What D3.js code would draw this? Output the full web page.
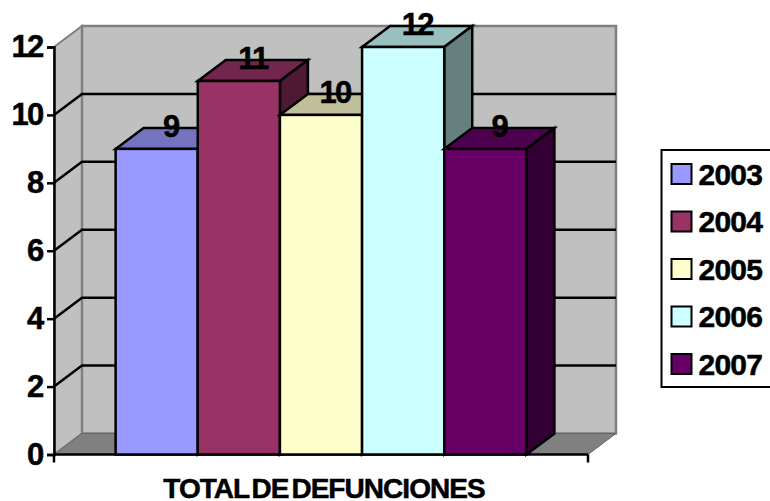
<!DOCTYPE html>
<html><head><meta charset="utf-8">
<script src="https://cdn.jsdelivr.net/npm/d3@7"></script>
<style>html,body{margin:0;padding:0;background:#fff;overflow:hidden}svg{display:block}text{font-family:"Liberation Sans",Arial,sans-serif;font-weight:bold;fill:#000;stroke:#000;stroke-width:0.5px}</style>
</head><body><svg id="c" width="770" height="501"></svg>
<script>
const years = ["2003","2004","2005","2006","2007"];
const values = [9,11,10,12,9];
const faceColors = ["#9999ff","#993366","#ffffcc","#ccffff","#660066"];
const topColors = ["#7373bf","#73264d","#bfbf99","#99bfbf","#4d004d"];
const sideColors = ["#4d4d80","#4d1933","#808066","#668080","#330033"];
const yTicks = [0,2,4,6,8,10,12];
const categoryLabel = "TOTAL DE DEFUNCIONES";

const svg = d3.select("#c");
const dx = 28, dy = -21;
const y = d3.scaleLinear().domain([0,12]).range([454.5,47]);
const x = d3.scaleBand().domain(years).range([54,588]).paddingInner(0).paddingOuter(0.75);
const poly = pts => pts.map(p=>p.join(",")).join(" ");
const x0 = x.range()[0], x1 = x.range()[1];

// walls and floor
svg.append("polygon").attr("points",poly([[x0,y(0)],[x0+dx,y(0)+dy],[x0+dx,y(12)+dy],[x0,y(12)]])).attr("fill","#c0c0c0").attr("stroke","#808080").attr("stroke-width",2);
svg.append("polygon").attr("points",poly([[x0+dx,y(0)+dy],[x1+dx,y(0)+dy],[x1+dx,y(12)+dy],[x0+dx,y(12)+dy]])).attr("fill","#c0c0c0").attr("stroke","#808080").attr("stroke-width",2.5);
svg.append("polygon").attr("points",poly([[x0,y(0)],[x1,y(0)],[x1+dx,y(0)+dy],[x0+dx,y(0)+dy]])).attr("fill","#808080").attr("stroke","#666").attr("stroke-width",1);

// gridlines
yTicks.filter(t=>t>0&&t<12).forEach(t=>{
  svg.append("path").attr("d",`M${x0},${y(t)}L${x0+dx},${y(t)+dy}L${x1+dx},${y(t)+dy}`).attr("fill","none").attr("stroke","#000").attr("stroke-width",2.5);
});

// axes
const yAxis = svg.append("g").attr("transform",`translate(${x0},0)`).call(d3.axisLeft(y).tickValues(yTicks).tickSize(7).tickPadding(4.5));
yAxis.selectAll("path").attr("stroke","#000").attr("stroke-width",2.5);
yAxis.selectAll("line").attr("stroke","#000").attr("stroke-width",2.5);
yAxis.selectAll("text").attr("font-size",31).attr("font-family",'"Liberation Sans"').attr("font-weight","bold").attr("letter-spacing",-1.8).attr("dy","0.31em");

svg.append("path").attr("d",`M${x0},${y(0)}L${x1},${y(0)}M${x0},${y(0)}V${y(0)+8}M${x1},${y(0)}V${y(0)+8}`).attr("stroke","#000").attr("stroke-width",2.5).attr("fill","none");

// bars
const bars = svg.append("g").selectAll("g").data(years).join("g");
const bw = x.bandwidth();
bars.append("polygon").attr("fill",(d,i)=>topColors[i])
  .attr("points",(d,i)=>{const a=x(d),t=y(values[i]);return poly([[a,t],[a+bw,t],[a+bw+dx,t+dy],[a+dx,t+dy]]);});
bars.append("polygon").attr("fill",(d,i)=>sideColors[i])
  .attr("points",(d,i)=>{const a=x(d)+bw,t=y(values[i]);return poly([[a,t],[a+dx,t+dy],[a+dx,y(0)+dy],[a,y(0)]]);});
bars.append("rect").attr("fill",(d,i)=>faceColors[i])
  .attr("x",d=>x(d)).attr("width",bw).attr("y",(d,i)=>y(values[i])).attr("height",(d,i)=>y(0)-y(values[i]));
bars.selectAll("polygon,rect").attr("stroke","#000").attr("stroke-width",2.5).attr("stroke-linejoin","miter");

// value labels
svg.append("g").selectAll("text").data(years).join("text")
  .attr("x",d=>x(d)+bw/2+dx/2).attr("y",(d,i)=>y(values[i])-12)
  .attr("text-anchor","middle").attr("font-size",31).attr("letter-spacing",-1.8)
  .text((d,i)=>values[i]);

// category label
svg.append("text").attr("x",324).attr("y",498).attr("text-anchor","middle").attr("font-size",28).attr("letter-spacing",-0.95).attr("word-spacing",-4).text(categoryLabel);

// legend
svg.append("rect").attr("x",661.5).attr("y",150).attr("width",115).attr("height",237).attr("fill","#fff").attr("stroke","#000").attr("stroke-width",2);
const ly = d3.scalePoint().domain(years).range([174,364]);
const lg = svg.append("g").selectAll("g").data(years).join("g").attr("transform",d=>`translate(0,${ly(d)})`);
lg.append("rect").attr("x",671.5).attr("y",-10).attr("width",20).attr("height",20).attr("fill",(d,i)=>faceColors[i]).attr("stroke","#000").attr("stroke-width",2);
lg.append("text").attr("x",698.5).attr("y",10.5).attr("font-size",30).attr("letter-spacing",-0.8).text(d=>d);
</script></body></html>
